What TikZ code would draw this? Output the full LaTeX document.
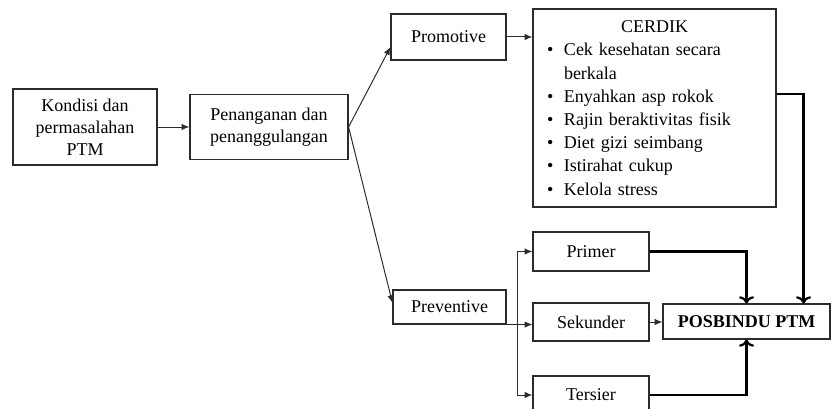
\documentclass[tikz,border=0pt]{standalone}
\usepackage{fontspec}
\setmainfont{Liberation Serif}
\usepackage{tikz}
\usetikzlibrary{arrows.meta, positioning, calc}
\definecolor{edge}{HTML}{2b2b2b}
\newcommand{\cerdikitem}[1]{\makebox[0.425cm][l]{\textbullet}#1}

\begin{document}
\begin{tikzpicture}[every node/.style={font=\fontsize{12.8}{15.5}\selectfont},
  box/.style={draw=edge, line width=0.8pt, align=center, inner sep=2pt},
  thin/.style={-{Latex[length=5.5pt,width=4.5pt]}, draw=edge, line width=0.7pt},
  heavy/.style={->, line width=1.6pt}]
  \useasboundingbox (0,0) rectangle (20.825,10.225);

  % Left part
  \node[box, minimum width=3.6cm, minimum height=1.9cm] (kondisi) at (2.125,7.05) {Kondisi dan\\permasalahan\\PTM};
  \node[box, minimum width=3.95cm, minimum height=1.625cm] (penanganan) at (6.725,7.05) {Penanganan dan\\penanggulangan};
  \draw[thin] (kondisi) -- (penanganan);

  % Promotive
  \node[box, minimum width=2.875cm, minimum height=1.15cm] (promotive) at (11.2125,9.3) {Promotive};
  \node[box, minimum height=4.95cm, text width=5.375cm, inner xsep=0.35cm, align=left,
        font=\fontsize{12.8}{16.5}\selectfont] (cerdik) at (16.3625,7.525)
    {\makebox[\hsize]{CERDIK}\\
     \cerdikitem{Cek kesehatan secara}\\
     \hspace*{0.425cm}berkala\\
     \cerdikitem{Enyahkan asp rokok}\\
     \cerdikitem{Rajin beraktivitas fisik}\\
     \cerdikitem{Diet gizi seimbang}\\
     \cerdikitem{Istirahat cukup}\\
     \cerdikitem{Kelola stress}};
  \draw[thin] (penanganan.east) -- ([yshift=-0.25cm]promotive.west);
  \draw[thin] (promotive.east) -- (promotive.east -| cerdik.west);

  % Preventive
  \node[box, minimum width=2.825cm, minimum height=0.85cm] (preventive) at (11.2375,2.55) {Preventive};
  \node[box, minimum width=2.9cm, minimum height=0.975cm] (primer) at (14.775,3.9375) {Primer};
  \node[box, minimum width=2.9cm, minimum height=0.95cm] (sekunder) at (14.775,2.175) {Sekunder};
  \node[box, minimum width=2.9cm, minimum height=0.95cm] (tersier) at (14.775,0.35) {Tersier};
  \draw[thin] (penanganan.east) -- ([yshift=0.1cm]preventive.west);
  \draw[thin] (preventive.south east) -- (preventive.south east -| sekunder.west);
  \draw[thin, {Latex[length=5.5pt,width=4.5pt]}-{Latex[length=5.5pt,width=4.5pt]}] (primer.west) -- ++(-0.375,0) |- (tersier.west);

  % Posbindu
  \node[box, minimum width=4.175cm, minimum height=0.875cm, font=\fontsize{12.8}{15.5}\selectfont\bfseries] (posbindu) at (18.6625,2.1875) {POSBINDU PTM};
  \draw[thin] (sekunder.east) -- (sekunder.east -| posbindu.west);
  \draw[heavy] (primer.east) -| (posbindu.north);
  \draw[heavy] (tersier.east) -| (posbindu.south);
  \draw[heavy] ([yshift=0.35cm]cerdik.east) -| ([xshift=-0.675cm]posbindu.north east);
\end{tikzpicture}
\end{document}
